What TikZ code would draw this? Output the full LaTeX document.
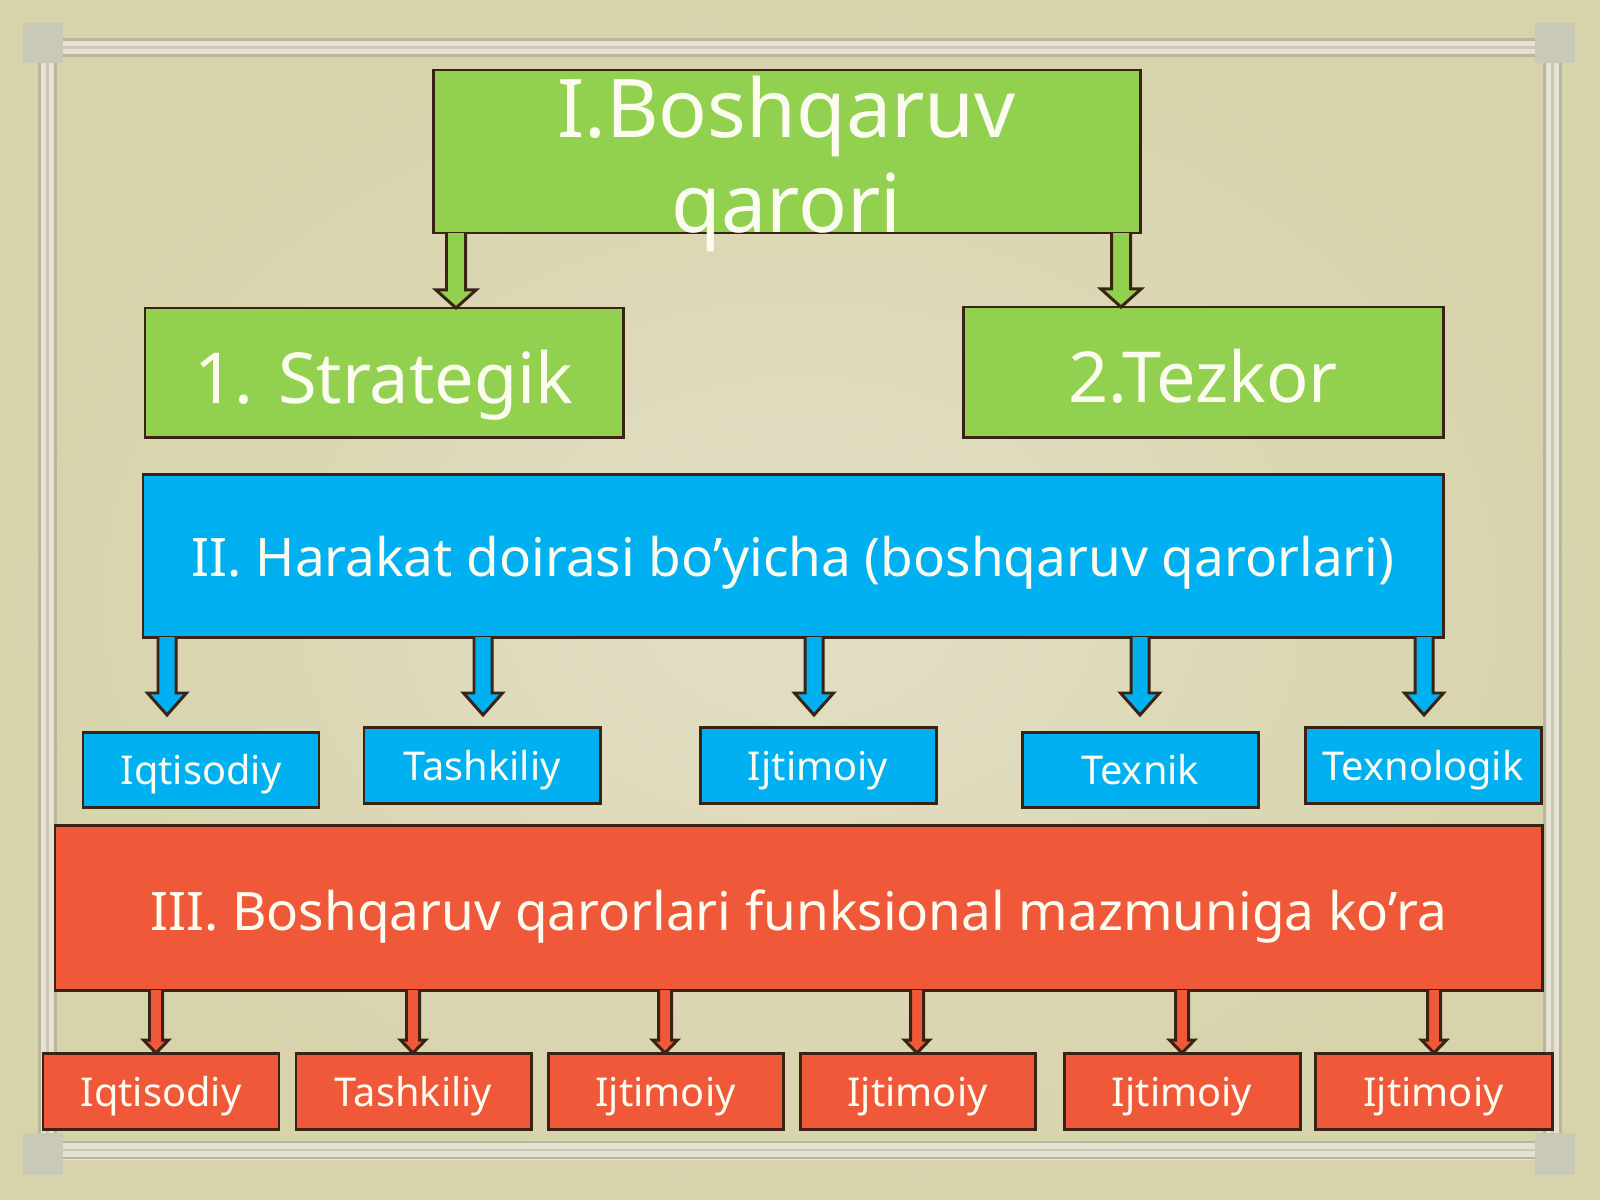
\documentclass[tikz,border=0pt]{standalone}
\usepackage{fontspec}
\setmainfont{Noto Sans}
\usetikzlibrary{calc}
\definecolor{bgA}{HTML}{E3DFC6}
\definecolor{bgB}{HTML}{D7D3AB}
\definecolor{gfill}{HTML}{92D050}
\definecolor{bfill}{HTML}{00B0F0}
\definecolor{rfill}{HTML}{F0583A}
\definecolor{edge}{HTML}{3A2314}
\definecolor{txt}{HTML}{FBFBF0}
\definecolor{frameD}{HTML}{B9B69C}
\definecolor{frameM}{HTML}{CBC8B1}
\definecolor{frameL}{HTML}{E4E2D2}
\definecolor{cornerC}{HTML}{CAC8B7}
\tikzset{
  boxbase/.style={draw=edge, line width=0.85pt, text=txt, inner sep=0pt, outer sep=0pt},
  tbox/.style={boxbase, fill=gfill, font=\fontsize{23}{27}\selectfont},
  gbox/.style={boxbase, text height=18pt, text depth=0.6pt, fill=gfill, font=\fontsize{20}{24}\selectfont},
  bbig/.style={boxbase, text height=13pt, text depth=0.8pt, fill=bfill, font=\fontsize{15.1}{18}\selectfont},
  rbig/.style={boxbase, text height=13.6pt, text depth=0.6pt, fill=rfill, font=\fontsize{15.1}{18}\selectfont},
  bsmall/.style={boxbase, text height=9.4pt, text depth=0.6pt, fill=bfill, font=\fontsize{11.3}{14}\selectfont},
  rsmall/.style={boxbase, text height=9.6pt, text depth=0.6pt, fill=rfill, font=\fontsize{11.3}{14}\selectfont},
  garr/.style={draw=edge, line width=0.85pt, fill=gfill, line join=miter},
  barr/.style={draw=edge, line width=0.85pt, fill=bfill, line join=miter},
  rarr/.style={draw=edge, line width=0.85pt, fill=rfill, line join=miter},
  frameline/.style={line width=0.6pt},
}
% #1 x1, #2 y1, #3 x2, #4 y2, #5 name, #6 style, #7 text
\newcommand{\bx}[7]{\node[#6, minimum width={(#3-#1)*0.01cm}, minimum height={(#4-#2)*0.01cm}] (#5) at ({(#1+#3)/2},{(#2+#4)/2}) {#7};}
% #1 x, #2 start, #3 tip, #4 shaft half, #5 head half, #6 head length, #7 style
\newcommand{\blockarr}[7]{\draw[#7] let \p1=(#1,0), \p2=(#2), \p3=(#3) in
  (\x1-#4,\y2) -- (\x1-#4,\y3+#6) -- (\x1-#5,\y3+#6) -- (\x1,\y3) -- (\x1+#5,\y3+#6) -- (\x1+#4,\y3+#6) -- (\x1+#4,\y2);}
\begin{document}
\begin{tikzpicture}[x=0.01cm,y=-0.01cm]
\useasboundingbox (0,0) rectangle (1600,1200);
\fill[bgB] (0,0) rectangle (1600,1200);
\path[inner color=bgA, outer color=bgB] (0,0) rectangle (1600,1200);
% frame
\draw[frameL, line width=5.4pt] (47.5,47.5) rectangle (1552.5,1150);
\draw[frameD, frameline] (39.5,39.5) rectangle (1560.5,1158);
\draw[frameM, frameline] (47.5,47.5) rectangle (1552.5,1150);
\draw[frameD, frameline] (55.5,55.5) rectangle (1544.5,1142);
\fill[cornerC] (23,23) rectangle (63,63);
\fill[cornerC] (1535,23) rectangle (1575,63);
\fill[cornerC] (23,1133) rectangle (63,1175);
\fill[cornerC] (1535,1133) rectangle (1575,1175);
% level I
\bx{433}{70}{1140}{233}{top}{tbox}{\raisebox{4.1pt}[0pt][0pt]{\begin{tabular}[t]{@{}c@{}}I.Boshqaruv\\ qarori\end{tabular}}}
\bx{145}{308}{623}{437}{strat}{gbox}{1. Strategik}
\bx{963}{307}{1443}{437}{tez}{gbox}{2.Tezkor}
% level II
\bx{143}{474}{1443}{637}{harakat}{bbig}{II. Harakat doirasi bo’yicha (boshqaruv qarorlari)}
\bx{83}{732}{319}{807}{b1}{bsmall}{Iqtisodiy}
\bx{364}{727}{600}{803}{b2}{bsmall}{Tashkiliy}
\bx{700}{727}{936}{803}{b3}{bsmall}{Ijtimoiy}
\bx{1022}{732}{1258}{807}{b4}{bsmall}{Texnik}
\bx{1305}{727}{1541}{803}{b5}{bsmall}{Texnologik}
% level III
\bx{55}{825}{1542}{990}{funk}{rbig}{III. Boshqaruv qarorlari funksional mazmuniga ko’ra}
\bx{43}{1053}{279}{1129}{r1}{rsmall}{Iqtisodiy}
\bx{296}{1053}{531}{1129}{r2}{rsmall}{Tashkiliy}
\bx{548}{1053}{783}{1129}{r3}{rsmall}{Ijtimoiy}
\bx{800}{1053}{1035}{1129}{r4}{rsmall}{Ijtimoiy}
\bx{1064}{1053}{1300}{1129}{r5}{rsmall}{Ijtimoiy}
\bx{1315}{1053}{1552}{1129}{r6}{rsmall}{Ijtimoiy}
% green arrows
\blockarr{456}{top.south}{strat.north}{0.095cm}{0.2cm}{0.18cm}{garr}
\blockarr{1121}{top.south}{tez.north}{0.095cm}{0.2cm}{0.18cm}{garr}
% blue arrows
\blockarr{167}{harakat.south}{$(b1.north)+(0,-17)$}{0.09cm}{0.195cm}{0.22cm}{barr}
\blockarr{483}{harakat.south}{$(b2.north)+(0,-12)$}{0.09cm}{0.195cm}{0.22cm}{barr}
\blockarr{814}{harakat.south}{$(b3.north)+(0,-12)$}{0.09cm}{0.195cm}{0.22cm}{barr}
\blockarr{1140}{harakat.south}{$(b4.north)+(0,-17)$}{0.09cm}{0.195cm}{0.22cm}{barr}
\blockarr{1424}{harakat.south}{$(b5.north)+(0,-12)$}{0.09cm}{0.195cm}{0.22cm}{barr}
% red arrows
\blockarr{156}{funk.south}{r1.north}{0.065cm}{0.125cm}{0.13cm}{rarr}
\blockarr{413}{funk.south}{r2.north}{0.065cm}{0.125cm}{0.13cm}{rarr}
\blockarr{665}{funk.south}{r3.north}{0.065cm}{0.125cm}{0.13cm}{rarr}
\blockarr{917}{funk.south}{r4.north}{0.065cm}{0.125cm}{0.13cm}{rarr}
\blockarr{1182}{funk.south}{r5.north}{0.065cm}{0.125cm}{0.13cm}{rarr}
\blockarr{1434}{funk.south}{r6.north}{0.065cm}{0.125cm}{0.13cm}{rarr}
\end{tikzpicture}
\end{document}
